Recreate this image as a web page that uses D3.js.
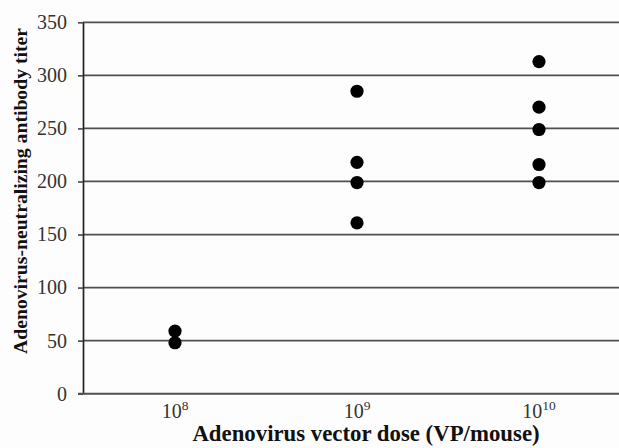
<!DOCTYPE html>
<html><head><meta charset="utf-8">
<script src="https://cdn.jsdelivr.net/npm/d3@7"></script>
<style>body{margin:0;background:#fdfdfd;} svg{display:block;}</style>
</head><body>
<svg id="c" width="619" height="448"></svg>
<script>
const categories = ["8", "9", "10"];
const dose1e8 = [59, 48];
const dose1e9 = [285, 218, 199, 161];
const dose1e10 = [313, 270, 249, 216, 199];
const yTicks = [0, 50, 100, 150, 200, 250, 300, 350];
const yTitle = "Adenovirus-neutralizing antibody titer";
const xTitle = "Adenovirus vector dose (VP/mouse)";

const series = [dose1e8, dose1e9, dose1e10];
const points = [];
series.forEach((vals, i) => vals.forEach(v => points.push({cat: categories[i], v})));

const svg = d3.select("#c");
svg.append("rect").attr("width", 619).attr("height", 448).attr("fill", "#fdfdfd");

const x = d3.scaleBand().domain(categories).range([84, 630]);
const y = d3.scaleLinear().domain([0, 350]).range([393.7, 22.3]);
const serif = "'Liberation Serif','Times New Roman',serif";

// gridlines
svg.append("g").selectAll("line").data(yTicks.filter(t => t > 0)).join("line")
  .attr("x1", 83).attr("x2", 630)
  .attr("y1", d => y(d)).attr("y2", d => y(d))
  .attr("stroke", "#505050").attr("stroke-width", 1.7);

// y axis
const yAxis = d3.axisLeft(y).tickValues(yTicks).tickSize(5).tickSizeOuter(0).tickPadding(11);
const gy = svg.append("g").attr("transform", "translate(83,0)").call(yAxis);
gy.select(".domain").attr("stroke", "#222").attr("stroke-width", 1.7);
gy.selectAll(".tick line").attr("stroke", "#505050").attr("stroke-width", 1.7);
gy.selectAll(".tick text").attr("font-family", serif).attr("font-size", 20).attr("fill", "#333");

// x baseline
svg.append("line").attr("x1", 78).attr("x2", 630).attr("y1", y(0)).attr("y2", y(0))
  .attr("stroke", "#505050").attr("stroke-width", 1.9);

// x tick labels
const xAxis = d3.axisBottom(x).tickSize(0).tickPadding(0).tickFormat("");
const gx = svg.append("g").attr("transform", `translate(0,${y(0)})`).call(xAxis);
gx.select(".domain").remove();
gx.selectAll(".tick").each(function(d) {
  const t = d3.select(this).append("text").attr("y", 24).attr("text-anchor", "middle")
    .attr("font-family", serif).attr("font-size", 20).attr("fill", "#333");
  t.append("tspan").text("10");
  t.append("tspan").attr("dy", -8).attr("font-size", 13.5).text(d);
});

// points
svg.append("g").selectAll("circle").data(points).join("circle")
  .attr("cx", d => x(d.cat) + x.bandwidth() / 2)
  .attr("cy", d => y(d.v))
  .attr("r", 6.6).attr("fill", "#000");

// titles
svg.append("text").attr("x", 366).attr("y", 441).attr("text-anchor", "middle")
  .attr("font-family", serif).attr("font-weight", "bold").attr("font-size", 22.8).attr("fill", "#111")
  .text(xTitle);
svg.append("text").attr("transform", "translate(27,191) rotate(-90)").attr("text-anchor", "middle")
  .attr("font-family", serif).attr("font-weight", "bold").attr("font-size", 19.7).attr("fill", "#111")
  .text(yTitle);
</script>
</body></html>
